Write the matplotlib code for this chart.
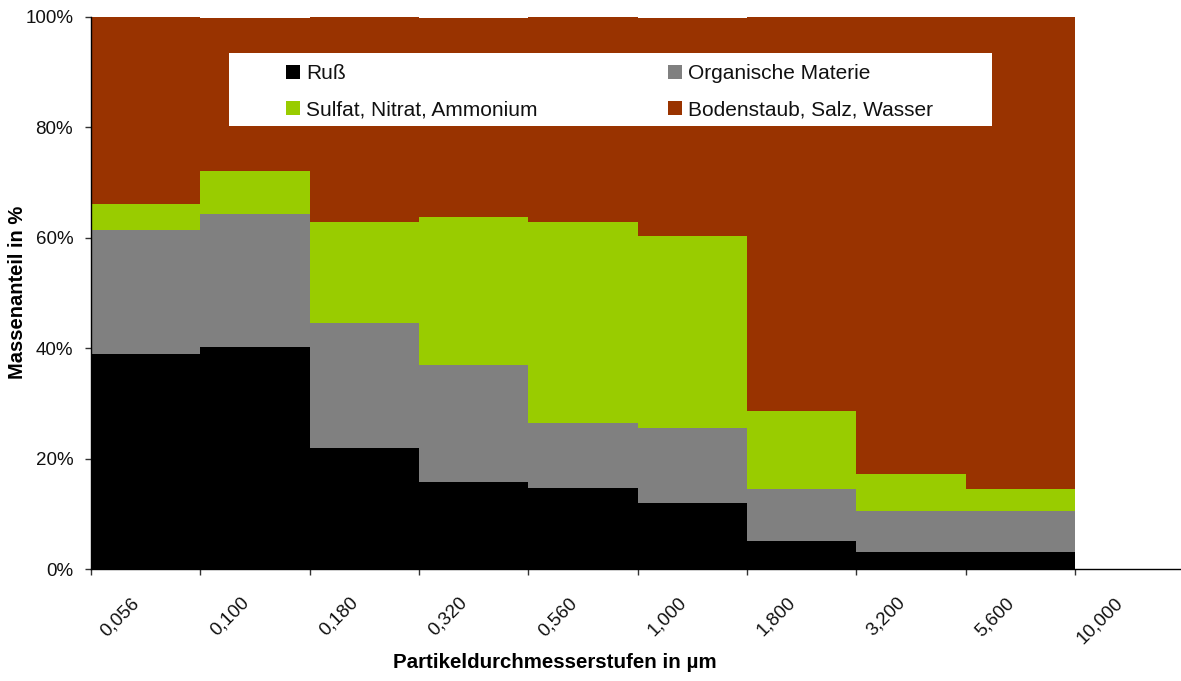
import matplotlib
matplotlib.use("Agg")
import matplotlib.pyplot as plt
from matplotlib.patches import Rectangle, Patch
import numpy as np

plt.rcParams['font.family'] = ['Liberation Sans', 'DejaVu Sans']

edges = ["0,056", "0,100", "0,180", "0,320", "0,560", "1,000", "1,800", "3,200", "5,600", "10,000"]
russ = [38.9, 40.2, 21.9, 15.7, 14.7, 11.9, 5.1, 3.1, 3.1]
organisch = [22.5, 24.1, 22.6, 21.2, 11.7, 13.6, 9.4, 7.4, 7.4]
sulfat = [4.7, 7.7, 18.3, 26.8, 36.4, 34.8, 14.1, 6.7, 4.0]
boden = [33.9, 27.8, 37.2, 36.1, 37.2, 39.5, 71.4, 82.8, 85.5]
series_names = ["Ruß", "Organische Materie", "Sulfat, Nitrat, Ammonium", "Bodenstaub, Salz, Wasser"]
colors = ["#000000", "#808080", "#99CC00", "#993300"]
yticks = [0, 20, 40, 60, 80, 100]

W, H = 1181, 681
fig = plt.figure(figsize=(W / 100, H / 100), dpi=100)
L, R, B, T = 91, 1181, 569, 16.5
ax = fig.add_axes([L / W, 1 - B / H, (R - L) / W, (B - T) / H])

x = np.arange(len(russ))
bottom = np.zeros(len(russ))
for vals, c in zip([russ, organisch, sulfat, boden], colors):
    ax.bar(x, vals, width=1.0, bottom=bottom, align='edge', color=c,
           linewidth=0, antialiased=False, zorder=2)
    bottom = bottom + np.array(vals)

ax.set_xlim(0, (R - L) / 109.33)
ax.set_ylim(0, 100)
for s in ['top', 'right']:
    ax.spines[s].set_visible(False)
for s in ['left', 'bottom']:
    ax.spines[s].set_linewidth(1.0)
    ax.spines[s].set_color('black')
    ax.spines[s].set_zorder(3)

ax.set_yticks(yticks)
ax.set_yticklabels([f"{v}%" for v in yticks], fontsize=13.5, color='#111111')
ax.tick_params(axis='y', direction='out', length=4.3, width=1.0, pad=8.5, color='#333333')
ax.set_xticks(range(len(edges)))
ax.set_xticklabels([''] * len(edges))
ax.tick_params(axis='x', direction='out', length=4.3, width=1.0, color='#333333')

for i, lab in enumerate(edges):
    ax.annotate(lab, xy=(i, 0), xycoords='data', xytext=(33, -22.5),
                textcoords='offset points', ha='right', va='center',
                rotation=45, rotation_mode='anchor', fontsize=13.5, color='#111111',
                annotation_clip=False)

fig.text(555 / W, 1 - 662 / H, "Partikeldurchmesserstufen in µm", ha='center', va='center',
         fontsize=14.8, fontweight='bold')
fig.text(17.5 / W, 1 - 292 / H, "Massenanteil in %", ha='center', va='center',
         rotation=90, fontsize=14.5, fontweight='bold')

# legend background box
ax.add_patch(Rectangle((229 / W, 1 - 126 / H), 763 / W, 73 / H, transform=fig.transFigure,
                       facecolor='white', edgecolor='none', zorder=8))
handles = [Patch(facecolor=colors[i], edgecolor='none') for i in range(4)]
order = [0, 2, 1, 3]
leg = ax.legend([handles[i] for i in order], [series_names[i] for i in order], ncol=2,
                loc='upper left', bbox_to_anchor=(286 / W, 1 - 64 / H),
                bbox_transform=fig.transFigure, frameon=False, fontsize=15,
                handlelength=0.67, handleheight=0.67, handletextpad=0.29,
                columnspacing=6.25, labelspacing=0.83, borderpad=0, borderaxespad=0)
leg.set_zorder(10)
for t in leg.get_texts():
    t.set_color('#111111')

fig.savefig("out.png", dpi=100)
